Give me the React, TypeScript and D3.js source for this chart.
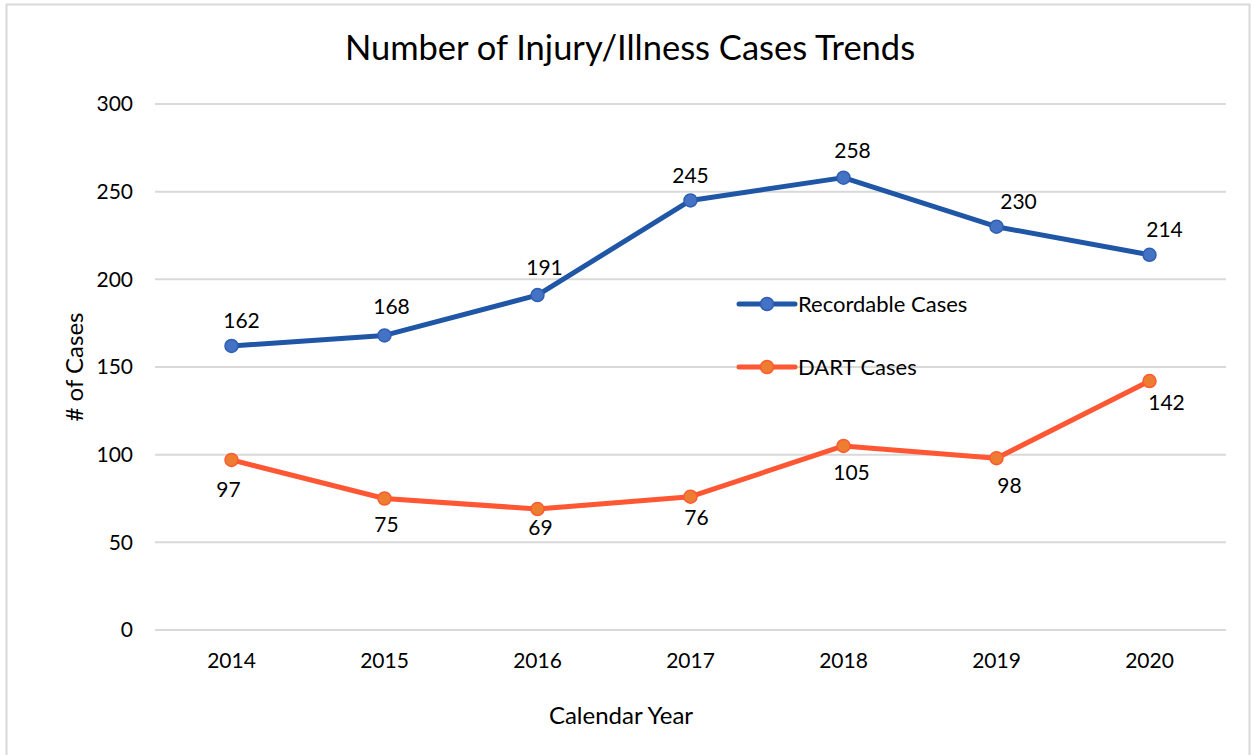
import React, { useEffect, useRef } from "react";
import * as d3 from "d3";

const years = ["2014", "2015", "2016", "2017", "2018", "2019", "2020"];
const recordable = [162, 168, 191, 245, 258, 230, 214];
const dart = [97, 75, 69, 76, 105, 98, 142];
const yTicks = [0, 50, 100, 150, 200, 250, 300];
// small label nudges, like the hand-placed labels in the original
const recordableLabelDx = [10, 7, 7, 0, 9, 22, 15];
const recordableLabelDy = [-18, -21, -20, -17, -20, -18, -18];
const dartLabelDx = [-3, 2, 3, 6, 8, 13, 17];
const dartLabelDy = [37, 33, 26, 28, 34, 35, 29];

const FONT = "Lato, 'Open Sans', sans-serif";

const App = () => {
  const svgRef = useRef<SVGSVGElement>(null);

  useEffect(() => {
    const svg = d3.select(svgRef.current);
    svg.selectAll("*").remove();
    const width = 1253;
    const height = 755;
    const margin = { top: 104, right: 27, bottom: 125, left: 155 };
    const innerW = width - margin.left - margin.right;
    const innerH = height - margin.top - margin.bottom;

    svg
      .append("rect")
      .attr("x", 6.5)
      .attr("y", 4.5)
      .attr("width", 1243)
      .attr("height", 760)
      .attr("fill", "white")
      .attr("stroke", "#d9d9d9")
      .attr("stroke-width", 2);

    svg
      .append("text")
      .attr("x", 630)
      .attr("y", 60)
      .attr("text-anchor", "middle")
      .style("font-family", FONT)
      .style("font-size", "34.5px")
      .attr("fill", "#000")
      .text("Number of Injury/Illness Cases Trends");

    const g = svg
      .append("g")
      .attr("transform", `translate(${margin.left},${margin.top})`);

    const x = d3.scalePoint().domain(years).range([0, innerW]).padding(0.5);
    const y = d3.scaleLinear().domain([0, 300]).range([innerH, 0]);

    g.selectAll("line.grid")
      .data(yTicks)
      .enter()
      .append("line")
      .attr("x1", 0)
      .attr("x2", innerW)
      .attr("y1", (d) => y(d))
      .attr("y2", (d) => y(d))
      .attr("stroke", "#d9d9d9")
      .attr("stroke-width", 2);

    g.selectAll("text.ytick")
      .data(yTicks)
      .enter()
      .append("text")
      .attr("x", -22)
      .attr("y", (d) => y(d))
      .attr("dy", "0.35em")
      .attr("text-anchor", "end")
      .style("font-family", FONT)
      .style("font-size", "21px")
      .text((d) => d);

    g.selectAll("text.xtick")
      .data(years)
      .enter()
      .append("text")
      .attr("x", (d) => x(d)!)
      .attr("y", innerH + 38)
      .attr("text-anchor", "middle")
      .style("font-family", FONT)
      .style("font-size", "21px")
      .text((d) => d);

    svg
      .append("text")
      .attr("transform", `translate(83,${margin.top + innerH / 2}) rotate(-90)`)
      .attr("text-anchor", "middle")
      .style("font-family", FONT)
      .style("font-size", "24px")
      .text("# of Cases");

    svg
      .append("text")
      .attr("x", 621)
      .attr("y", 724)
      .attr("text-anchor", "middle")
      .style("font-family", FONT)
      .style("font-size", "24px")
      .text("Calendar Year");

    const series = [
      { name: "Recordable Cases", values: recordable, line: "#1f56a6", fill: "#4472c4", stroke: "#2f5fb3", dx: recordableLabelDx, dy: recordableLabelDy },
      { name: "DART Cases", values: dart, line: "#ff5733", fill: "#ed7d31", stroke: "#ff5a30", dx: dartLabelDx, dy: dartLabelDy },
    ];

    const line = d3
      .line<number>()
      .x((_, i) => x(years[i])!)
      .y((d) => y(d));

    series.forEach((s) => {
      g.append("path")
        .datum(s.values)
        .attr("fill", "none")
        .attr("stroke", s.line)
        .attr("stroke-width", 5)
        .attr("stroke-linejoin", "round")
        .attr("d", line);

      g.selectAll(null)
        .data(s.values)
        .enter()
        .append("circle")
        .attr("cx", (_, i) => x(years[i])!)
        .attr("cy", (d) => y(d))
        .attr("r", 6.5)
        .attr("fill", s.fill)
        .attr("stroke", s.stroke)
        .attr("stroke-width", 1.5);

      g.selectAll(null)
        .data(s.values)
        .enter()
        .append("text")
        .attr("x", (_, i) => x(years[i])! + s.dx[i])
        .attr("y", (d, i) => y(d) + s.dy[i])
        .attr("text-anchor", "middle")
        .style("font-family", FONT)
        .style("font-size", "21px")
        .text((d) => d);
    });

    // legend
    const legend = svg.append("g").attr("transform", "translate(739,304)");
    series.forEach((s, i) => {
      const row = legend.append("g").attr("transform", `translate(0,${i * 63})`);
      row
        .append("line")
        .attr("x1", 0)
        .attr("x2", 56)
        .attr("stroke", s.line)
        .attr("stroke-width", 5)
        .attr("stroke-linecap", "round");
      row
        .append("circle")
        .attr("cx", 28)
        .attr("r", 6.5)
        .attr("fill", s.fill)
        .attr("stroke", s.stroke)
        .attr("stroke-width", 1.5);
      row
        .append("text")
        .attr("x", 59)
        .attr("dy", "0.35em")
        .style("font-family", FONT)
        .style("font-size", "22px")
        .text(s.name);
    });
  }, []);

  return (
    <div style={{ position: "absolute", left: 0, top: 0, width: 1253, height: 755 }}>
      <svg ref={svgRef} width={1253} height={755} style={{ display: "block" }} />
    </div>
  );
};

export default App;
